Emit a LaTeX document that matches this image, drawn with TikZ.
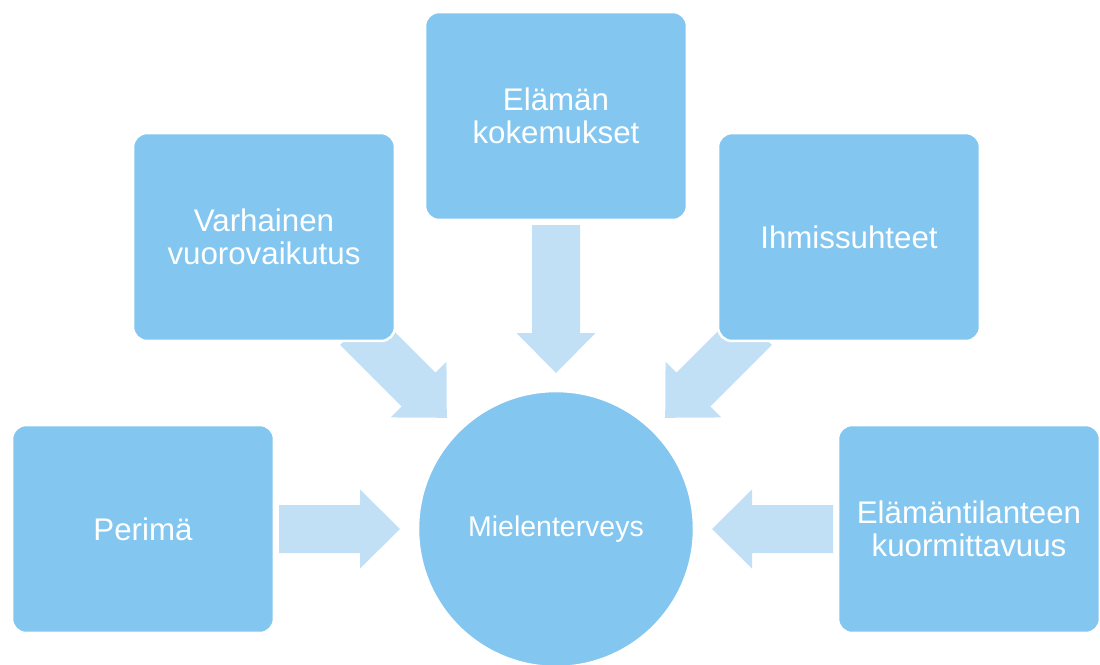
\documentclass[tikz,border=0pt]{standalone}
\usepackage{fontspec}
\setmainfont{Liberation Sans}
\definecolor{boxc}{RGB}{131,199,240}
\definecolor{arrowc}{RGB}{194,224,245}
\tikzset{
  box/.style={rectangle, rounded corners=0.28cm, fill=boxc, draw=white, line width=0.05cm,
    minimum width=5.24cm, minimum height=4.16cm, align=center, text=white, inner sep=2pt,
    font=\fontsize{17.8}{18.7}\selectfont},
  hub/.style={circle, fill=boxc, draw=white, line width=0.05cm, minimum size=5.52cm,
    text=white, inner sep=0pt, font=\fontsize{16.2}{18}\selectfont},
  barrow/.pic={\fill[arrowc] (0,-24) -- (#1-40,-24) -- (#1-40,-39.5) -- (#1,0)
      -- (#1-40,39.5) -- (#1-40,24) -- (0,24) -- cycle;}
}
\begin{document}
\begin{tikzpicture}[x=0.02cm, y=-0.02cm]
\useasboundingbox (0,0) rectangle (1100,664);
% arrow tails
\coordinate (tL) at (279,529);
\coordinate (tR) at (833,529);
\coordinate (tT) at (556,225);
\coordinate (tUL) at (357,328);
\coordinate (tUR) at (755,328);
\pic at (tL) {barrow=121};
\pic[rotate=180] at (tR) {barrow=121};
\pic[rotate=-90] at (tT) {barrow=148};
\pic[rotate=-45] at (tUL) {barrow=127};
\pic[rotate=-135] at (tUR) {barrow=127};
% boxes
\node[box] (perima) at (143,529) {Perimä};
\node[box] (varhainen) at (264,237) {Varhainen\\vuorovaikutus};
\node[box] (kokemukset) at (556,116) {Elämän\\kokemukset};
\node[box] (ihmis) at (849,237) {Ihmissuhteet};
\node[box] (kuorm) at (969,529) {Elämäntilanteen\\kuormittavuus};
\node[hub] (mt) at (556,529) {Mielenterveys};
\end{tikzpicture}
\end{document}
